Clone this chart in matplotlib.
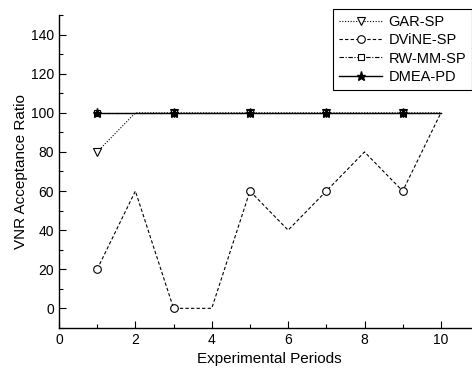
import matplotlib
matplotlib.use('Agg')
import matplotlib.pyplot as plt
from matplotlib.ticker import MultipleLocator

plt.rcParams['font.family'] = ['Liberation Sans', 'DejaVu Sans']

# Data
periods = [1, 2, 3, 4, 5, 6, 7, 8, 9, 10]
gar_sp = [80, 100, 100, 100, 100, 100, 100, 100, 100, 100]
dvine_sp = [20, 60, 0, 0, 60, 40, 60, 80, 60, 100]
rw_mm_sp = [100, 100, 100, 100, 100, 100, 100, 100, 100, 100]
dmea_pd = [100, 100, 100, 100, 100, 100, 100, 100, 100, 100]

fig = plt.figure(figsize=(4.72, 3.68), dpi=100)
ax = fig.add_axes([0.125, 0.109, 0.89, 0.85])

ax.plot(periods, gar_sp, linestyle=(0, (1, 1.5)), color='black', lw=0.8,
        marker='v', markevery=2, ms=5.5, mfc='white', mec='black', mew=0.8, label='GAR-SP')
ax.plot(periods, dvine_sp, linestyle=(0, (3, 2)), color='black', lw=0.8,
        marker='o', markevery=2, ms=5.5, mfc='white', mec='black', mew=0.8, label='DViNE-SP')
ax.plot(periods, rw_mm_sp, linestyle=(0, (4, 1.5, 1, 1.5)), color='black', lw=0.8,
        marker='s', markevery=2, ms=5, mfc='white', mec='black', mew=0.8, label='RW-MM-SP')
ax.plot(periods, dmea_pd, linestyle='-', color='black', lw=1.0,
        marker='*', markevery=2, ms=6.5, mfc='black', mec='black', label='DMEA-PD')

ax.set_xlim(0, 11)
ax.set_ylim(-10, 150)
ax.xaxis.set_major_locator(MultipleLocator(2))
ax.xaxis.set_minor_locator(MultipleLocator(1))
ax.yaxis.set_major_locator(MultipleLocator(20))
ax.yaxis.set_minor_locator(MultipleLocator(10))
ax.set_yticks(range(0, 141, 20))
ax.tick_params(which='both', direction='in', labelsize=10, width=0.8)
ax.tick_params(which='major', length=5)
ax.tick_params(which='minor', length=3)
ax.spines['top'].set_visible(False)
ax.spines['right'].set_visible(False)
for s in ('left', 'bottom'):
    ax.spines[s].set_linewidth(1.0)

ax.set_xlabel('Experimental Periods', fontsize=11)
ax.set_ylabel('VNR Acceptance Ratio', fontsize=11, labelpad=2)

leg = ax.legend(loc='upper right', bbox_to_anchor=(1.0, 1.043), fontsize=10.5,
                fancybox=False, edgecolor='black', framealpha=1,
                handlelength=3.0, borderpad=0.4, labelspacing=0.3, handletextpad=0.4)
leg.get_frame().set_linewidth(0.8)

fig.savefig('out.png', dpi=100)
